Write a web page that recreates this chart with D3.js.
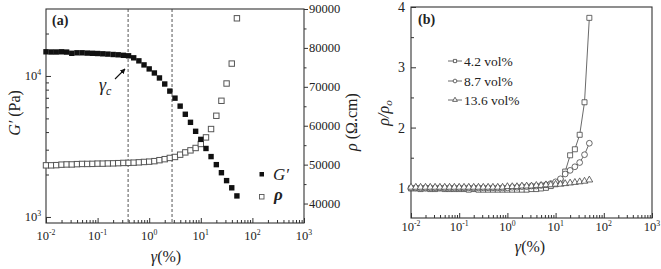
<!DOCTYPE html>
<html><head><meta charset="utf-8">
<script src="https://cdn.jsdelivr.net/npm/d3@7"></script>
<style>
body{margin:0;background:#fff}
svg{display:block}
text{font-family:"Liberation Serif","Times New Roman",serif;fill:#222}
</style></head><body>
<svg id="c" width="661" height="269"></svg>
<script>
// ---- data ----
const strain = [0.01,0.0126,0.0158,0.02,0.0251,0.0316,0.0398,0.0501,0.0631,0.0794,
  0.1,0.126,0.158,0.2,0.251,0.316,0.398,0.501,0.631,0.794,
  1,1.26,1.58,2,2.51,3.16,3.98,5.01,6.31,7.94,
  10,12.6,15.8,20,25.1,31.6,39.8,50.1];
const gPrime = [14840,14790,14790,14840,14770,14480,14600,14600,14530,14480,
  14430,14360,14290,14200,14130,14010,13900,13450,12800,11980,
  11220,10500,9680,8770,7810,6960,6110,5350,4690,4050,
  3550,3060,2680,2350,2060,1810,1610,1410];
const rho = [49820,49820,49870,50000,50050,50050,50130,50180,50180,50200,
  50260,50260,50310,50330,50380,50440,50460,50510,50590,50690,
  50770,50900,51150,51410,51720,51970,52560,53150,53670,54280,
  55310,57000,59150,62560,66410,70850,75970,87610];
const ratio42 = [0.99,0.99,0.98,0.99,0.98,0.98,0.99,0.98,0.98,0.98,
  0.98,0.98,0.97,0.98,0.97,0.97,0.97,0.97,0.97,0.97,
  0.97,0.97,0.97,0.97,0.97,0.98,0.98,0.99,1.00,1.03,
  1.06,1.12,1.27,1.54,1.64,1.88,2.42,3.82];
const ratio87 = [1.00,1.00,1.00,1.00,1.00,1.00,1.00,1.00,1.00,1.00,
  1.00,1.00,1.00,1.00,1.00,1.00,1.00,1.00,1.00,1.00,
  1.00,1.01,1.01,1.02,1.02,1.03,1.03,1.04,1.05,1.07,
  1.10,1.15,1.23,1.29,1.35,1.42,1.55,1.74];
const ratio136 = [1.01,1.01,1.01,1.01,1.01,1.01,1.01,1.01,1.01,1.01,
  1.01,1.01,1.01,1.01,1.01,1.01,1.01,1.01,1.01,1.01,
  1.02,1.02,1.02,1.03,1.03,1.03,1.04,1.04,1.05,1.05,
  1.06,1.06,1.07,1.08,1.09,1.10,1.11,1.13];
const decadeExps = [-2,-1,0,1,2,3];
const gExps = [3,4];
const rhoTicks = [40000,50000,60000,70000,80000,90000];
const rhoMinor = [45000,55000,65000,75000,85000];
const ratioTicks = [1,2,3,4];
const ratioMinor = [1.5,2.5,3.5];
const legendLabels = ["4.2 vol%","8.7 vol%","13.6 vol%"];
const criticalStrains = [0.39, 2.77];

// ---- layout ----
const svg = d3.select("#c");
const A = {l:46,r:304,t:9,b:223};
const B = {l:411,r:652,t:7,b:218};
const xa = d3.scaleLog().domain([0.01,1000]).range([A.l,A.r]);
const ya = d3.scaleLog().domain([906,29850]).range([A.b,A.t]);
const yr = d3.scaleLinear().domain([35000,90000]).range([A.b,A.t]);
const xb = d3.scaleLog().domain([0.01,1000]).range([B.l,B.r]);
const yb = d3.scaleLinear().domain([0.5,4]).range([B.b,B.t]);
const axCol = "#333";

function styleAxis(g){
  g.select(".domain").remove();
  g.selectAll(".tick line").attr("stroke",axCol).attr("stroke-width",1);
  g.selectAll(".tick text").remove();
}
function isPow10(v){ const l=Math.log10(v); return Math.abs(l-Math.round(l))<1e-6; }

function powLabel(x,y,e,anchor,size){
  const t = svg.append("text").attr("x",x).attr("y",y).attr("text-anchor",anchor)
    .attr("font-size",size);
  t.append("tspan").text("10");
  t.append("tspan").attr("dy",-5).attr("font-size",size*0.62).text(e);
  return t;
}

// ---- Panel A ----
// dashed lines
svg.selectAll("line.crit").data(criticalStrains).enter().append("line")
  .attr("x1",d=>xa(d)).attr("x2",d=>xa(d)).attr("y1",A.t).attr("y2",A.b)
  .attr("stroke","#555").attr("stroke-width",1).attr("stroke-dasharray","3,2");

// bottom axis A
const xaMaj = decadeExps.map(e=>Math.pow(10,e));
const xaMin = xa.ticks().filter(v=>!isPow10(v));
svg.append("g").attr("transform",`translate(0,${A.b})`)
  .call(d3.axisBottom(xa).tickValues(xaMaj).tickSize(-5).tickFormat("")).call(styleAxis);
svg.append("g").attr("transform",`translate(0,${A.b})`)
  .call(d3.axisBottom(xa).tickValues(xaMin).tickSize(-3).tickFormat("")).call(styleAxis);
decadeExps.forEach(e=>powLabel(xa(Math.pow(10,e)),240,e,"middle",12.5));

// left axis A (log)
const yaMaj = gExps.map(e=>Math.pow(10,e));
const yaMin = ya.ticks().filter(v=>!isPow10(v));
svg.append("g").attr("transform",`translate(${A.l},0)`)
  .call(d3.axisLeft(ya).tickValues(yaMaj).tickSize(-5).tickFormat("")).call(styleAxis);
svg.append("g").attr("transform",`translate(${A.l},0)`)
  .call(d3.axisLeft(ya).tickValues(yaMin).tickSize(-3).tickFormat("")).call(styleAxis);
gExps.forEach(e=>powLabel(41,ya(Math.pow(10,e))+4,e,"end",12.5));

// right axis A (rho)
svg.append("g").attr("transform",`translate(${A.r},0)`)
  .call(d3.axisRight(yr).tickValues(rhoTicks).tickSize(4).tickFormat("")).call(styleAxis);
svg.append("g").attr("transform",`translate(${A.r},0)`)
  .call(d3.axisRight(yr).tickValues(rhoMinor).tickSize(2.5).tickFormat("")).call(styleAxis);
svg.selectAll("text.rt").data(rhoTicks).enter().append("text")
  .attr("x",A.r+5).attr("y",d=>yr(d)+4).attr("font-size",12.5).text(d=>d);

// frame A
svg.append("rect").attr("x",A.l).attr("y",A.t).attr("width",A.r-A.l).attr("height",A.b-A.t)
  .attr("fill","none").attr("stroke",axCol).attr("stroke-width",1.1);

// data A
const sqs = 5.4;
svg.selectAll("rect.rho").data(strain).enter().append("rect")
  .attr("x",(d,i)=>xa(d)-sqs/2).attr("y",(d,i)=>yr(rho[i])-sqs/2)
  .attr("width",sqs).attr("height",sqs).attr("fill","#fff").attr("stroke","#555").attr("stroke-width",1);
svg.selectAll("rect.g").data(strain).enter().append("rect")
  .attr("x",(d,i)=>xa(d)-sqs/2).attr("y",(d,i)=>ya(gPrime[i])-sqs/2)
  .attr("width",sqs).attr("height",sqs).attr("fill","#111");

// legend A
svg.append("rect").attr("x",259.5).attr("y",172).attr("width",4.5).attr("height",4.5).attr("fill","#111");
svg.append("text").attr("x",273).attr("y",180).attr("font-size",17).attr("font-style","italic").text("G′");
svg.append("rect").attr("x",259.5).attr("y",194.5).attr("width",4.5).attr("height",4.5)
  .attr("fill","#fff").attr("stroke","#555").attr("stroke-width",0.9);
svg.append("text").attr("x",274).attr("y",200).attr("font-size",17).attr("font-style","italic")
  .attr("font-weight","bold").text("ρ");

// labels A
svg.append("text").attr("x",52).attr("y",25).attr("font-size",14).attr("font-weight","bold").text("(a)");
const gl = svg.append("text").attr("transform","translate(20,113) rotate(-90)")
  .attr("text-anchor","middle").attr("font-size",16);
gl.append("tspan").attr("font-style","italic").text("G′");
gl.append("tspan").text(" (Pa)");
const rl = svg.append("text").attr("transform","translate(357,122) rotate(-90)")
  .attr("text-anchor","middle").attr("font-size",16);
rl.append("tspan").attr("font-style","italic").text("ρ");
rl.append("tspan").text(" (Ω.cm)");
const xl = svg.append("text").attr("x",166).attr("y",262).attr("text-anchor","middle").attr("font-size",16);
xl.append("tspan").attr("font-style","italic").text("γ");
xl.append("tspan").text("(%)");

// gamma_c annotation
const gc = svg.append("text").attr("x",99).attr("y",91).attr("font-size",18).attr("font-style","italic");
gc.append("tspan").text("γ");
gc.append("tspan").attr("dy",4).attr("font-size",12).text("c");
svg.append("defs").append("marker").attr("id","ah").attr("viewBox","0 0 10 10")
  .attr("refX",9).attr("refY",5).attr("markerWidth",5).attr("markerHeight",5).attr("orient","auto")
  .append("path").attr("d","M0,0 L10,5 L0,10 z").attr("fill","#111");
svg.append("line").attr("x1",115).attr("y1",79).attr("x2",125).attr("y2",69)
  .attr("stroke","#111").attr("stroke-width",1.1).attr("marker-end","url(#ah)");

// ---- Panel B ----
const xbMin = xb.ticks().filter(v=>!isPow10(v));
svg.append("g").attr("transform",`translate(0,${B.b})`)
  .call(d3.axisBottom(xb).tickValues(xaMaj).tickSize(-5).tickFormat("")).call(styleAxis);
svg.append("g").attr("transform",`translate(0,${B.b})`)
  .call(d3.axisBottom(xb).tickValues(xbMin).tickSize(-3).tickFormat("")).call(styleAxis);
decadeExps.forEach(e=>powLabel(xb(Math.pow(10,e)),231,e,"middle",12.5));
svg.append("g").attr("transform",`translate(${B.l},0)`)
  .call(d3.axisLeft(yb).tickValues(ratioTicks).tickSize(-5).tickFormat("")).call(styleAxis);
svg.append("g").attr("transform",`translate(${B.l},0)`)
  .call(d3.axisLeft(yb).tickValues(ratioMinor).tickSize(-3).tickFormat("")).call(styleAxis);
svg.selectAll("text.bt").data(ratioTicks).enter().append("text")
  .attr("x",405).attr("y",d=>yb(d)+5).attr("text-anchor","end").attr("font-size",14).text(d=>d);
svg.append("rect").attr("x",B.l).attr("y",B.t).attr("width",B.r-B.l).attr("height",B.b-B.t)
  .attr("fill","none").attr("stroke",axCol).attr("stroke-width",1.1);

const series = [
  {vals:ratio42, shape:"sq"},
  {vals:ratio87, shape:"ci"},
  {vals:ratio136, shape:"tr"}
];
const mk = {
  sq: d3.symbol().type(d3.symbolSquare).size(25),
  ci: d3.symbol().type(d3.symbolCircle).size(26),
  tr: d3.symbol().type(d3.symbolTriangle).size(20)
};
const mkL = {
  sq: d3.symbol().type(d3.symbolSquare).size(10),
  ci: d3.symbol().type(d3.symbolCircle).size(11),
  tr: d3.symbol().type(d3.symbolTriangle).size(10)
};
const line = d3.line().x(d=>xb(d[0])).y(d=>yb(d[1]));
series.forEach(s=>{
  const pts = strain.map((x,i)=>[x,s.vals[i]]);
  svg.append("path").attr("d",line(pts)).attr("fill","none").attr("stroke","#444").attr("stroke-width",0.8);
  svg.append("g").selectAll("path").data(pts).enter().append("path")
    .attr("transform",d=>`translate(${xb(d[0])},${yb(d[1])})`).attr("d",mk[s.shape]())
    .attr("fill","#fff").attr("stroke","#444").attr("stroke-width",0.8);
});

// legend B
const legY = [61,81,100];
series.forEach((s,i)=>{
  svg.append("line").attr("x1",448).attr("x2",462).attr("y1",legY[i]).attr("y2",legY[i])
    .attr("stroke","#444").attr("stroke-width",0.8);
  svg.append("path").attr("transform",`translate(455,${legY[i]})`).attr("d",mkL[s.shape]())
    .attr("fill","#fff").attr("stroke","#444").attr("stroke-width",0.8);
  svg.append("text").attr("x",464).attr("y",legY[i]+4.5).attr("font-size",13.5).text(legendLabels[i]);
});

svg.append("text").attr("x",418).attr("y",24).attr("font-size",14).attr("font-weight","bold").text("(b)");
const bl = svg.append("text").attr("transform","translate(389,113) rotate(-90)")
  .attr("text-anchor","middle").attr("font-size",16).attr("font-style","italic");
bl.append("tspan").text("ρ/ρ");
bl.append("tspan").attr("dy",3).attr("font-size",11).text("o");
const xbl = svg.append("text").attr("x",530).attr("y",252).attr("text-anchor","middle").attr("font-size",16);
xbl.append("tspan").attr("font-style","italic").text("γ");
xbl.append("tspan").text("(%)");
</script>
</body></html>
